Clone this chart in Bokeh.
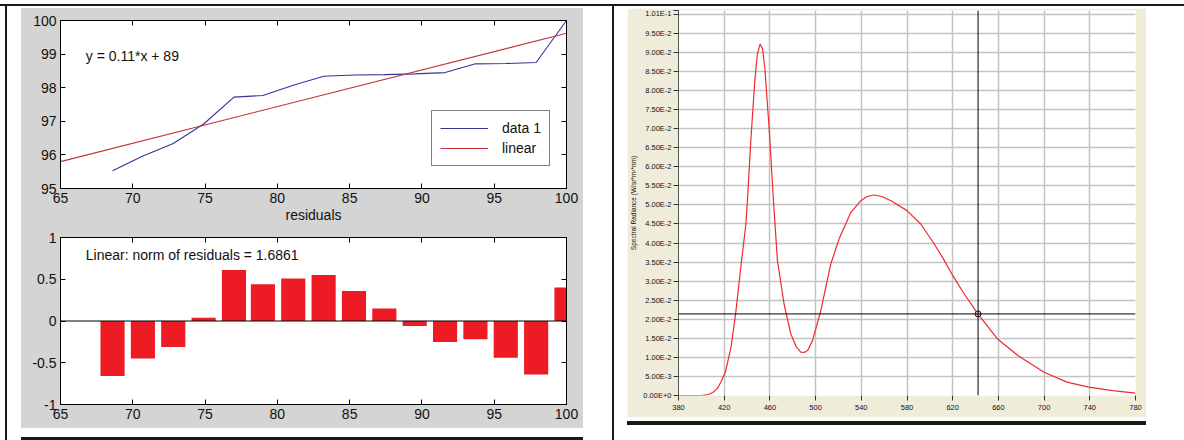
from bokeh.plotting import figure
from bokeh.models import (Span, Label, Legend, LegendItem, FixedTicker,
                          CustomJSTickFormatter, LinearAxis, Range1d, Spacer)
from bokeh.layouts import row, column
from bokeh.embed import file_html
from bokeh.resources import INLINE

# ---------------- data: linear fit (left panel) ----------------
data_x = [68.6, 70.7, 72.8, 74.9, 77.0, 79.0, 81.1, 83.2,
          85.3, 87.4, 89.5, 91.6, 93.7, 95.8, 97.9, 100.0]
data_y = [95.53, 95.97, 96.34, 96.92, 97.72, 97.77, 98.07, 98.34,
          98.38, 98.39, 98.41, 98.45, 98.71, 98.72, 98.75, 100.0]
fit_x = [65, 100]
fit_y = [95.80, 99.62]
residual_values = [-0.66, -0.45, -0.31, 0.04, 0.61, 0.44, 0.51, 0.55,
                   0.36, 0.15, -0.06, -0.25, -0.22, -0.44, -0.64, 0.40]
fit_equation = "y = 0.11*x + 89"
residual_note = "Linear: norm of residuals = 1.6861"
fit_x_ticks = [65, 70, 75, 80, 85, 90, 95, 100]
fit_x_labels = ["65", "70", "75", "80", "85", "90", "95", "100"]
fit_y_ticks = [95, 96, 97, 98, 99, 100]
fit_y_labels = ["95", "96", "97", "98", "99", "100"]
resid_y_ticks = [-1, -0.5, 0, 0.5, 1]
resid_y_labels = ["-1", "-0.5", "0", "0.5", "1"]

# ---------------- data: spectrum (right panel) ----------------
wavelength_nm = [380, 390, 400, 405, 410, 414, 417, 421, 426, 430, 434.5, 439, 440.5,
                 443.3, 446.8, 449, 451.4, 453.5, 455.5, 459.3, 463.1, 466.6, 472.4,
                 478.3, 483, 487, 490, 493, 497.3, 504.6, 513.3, 520.6, 530.8, 539.6,
                 545, 551, 558, 566, 580, 592, 602, 611, 620, 630, 642, 659, 677,
                 700, 720, 739, 760, 780]
radiance = [0.0, 0.0, 0.0, 0.00015, 0.0008, 0.0018, 0.0035, 0.0061, 0.0127, 0.0214,
            0.0336, 0.045, 0.052, 0.0669, 0.0826, 0.0895, 0.0922, 0.091, 0.0861,
            0.0703, 0.0511, 0.0354, 0.024, 0.0162, 0.0128, 0.0114, 0.0113, 0.0118,
            0.0144, 0.0223, 0.0345, 0.0411, 0.048, 0.0511, 0.0522, 0.0526, 0.0522,
            0.0511, 0.0485, 0.045, 0.0406, 0.0363, 0.0315, 0.0267, 0.0214, 0.0149,
            0.0105, 0.0061, 0.0035, 0.0022, 0.0013, 0.0006]
cursor_nm = 642.2
cursor_radiance = 0.0214
wl_ticks = [380, 420, 460, 500, 540, 580, 620, 660, 700, 740, 780]
wl_labels = ["380", "420", "460", "500", "540", "580", "620", "660", "700", "740", "780"]
rad_ticks = [0.0, 0.005, 0.01, 0.015, 0.02, 0.025, 0.03, 0.035, 0.04, 0.045, 0.05,
             0.055, 0.06, 0.065, 0.07, 0.075, 0.08, 0.085, 0.09, 0.095, 0.1, 0.101]
rad_labels = ["0.00E+0", "5.00E-3", "1.00E-2", "1.50E-2", "2.00E-2", "2.50E-2",
              "3.00E-2", "3.50E-2", "4.00E-2", "4.50E-2", "5.00E-2", "5.50E-2",
              "6.00E-2", "6.50E-2", "7.00E-2", "7.50E-2", "8.00E-2", "8.50E-2",
              "9.00E-2", "9.50E-2", "", "1.01E-1"]
rad_axis_title = "Spectral Radiance (W/sr*m\u00b2*nm)"

GRAY = "#d4d4d4"
CREAM = "#f0ecda"
INK = "#1a1a1a"
FONT = "Liberation Sans"


def label_formatter(vals, labs):
    return CustomJSTickFormatter(args=dict(tv=vals, tl=labs), code="""
        for (let i = 0; i < tv.length; i++) {
            if (Math.abs(tv[i] - tick) < 1e-9) { return tl[i]; }
        }
        return "";
    """)


def style_ml_axis(ax, ticks, labels, show_labels=True):
    ax.ticker = FixedTicker(ticks=ticks)
    ax.formatter = label_formatter(ticks, labels)
    ax.major_tick_in = 5
    ax.major_tick_out = 0
    ax.minor_tick_line_color = None
    ax.axis_line_color = "black"
    ax.major_tick_line_color = "black"
    ax.major_label_text_font = FONT
    if show_labels:
        ax.major_label_text_color = "#111111"
        ax.major_label_text_font_size = "14px"
        ax.major_label_standoff = 4
    else:
        ax.major_label_text_color = None
        ax.major_label_text_font_size = "1px"
        ax.major_label_standoff = 0


def ml_fig(y_range, frame_h, top, bottom, yticks, ylabels, xlabel=None):
    p = figure(frame_width=506, frame_height=frame_h,
               x_range=Range1d(65, 100), y_range=y_range,
               min_border_left=39, min_border_right=17,
               min_border_top=top, min_border_bottom=bottom,
               output_backend="svg", toolbar_location=None,
               background_fill_color="white", border_fill_color=None,
               outline_line_color="black", outline_line_width=1)
    p.grid.visible = False
    xa = p.xaxis[0]
    style_ml_axis(xa, fit_x_ticks, fit_x_labels)
    style_ml_axis(p.yaxis[0], yticks, ylabels)
    if xlabel:
        xa.axis_label = xlabel
        xa.axis_label_text_font = FONT
        xa.axis_label_text_font_size = "14px"
        xa.axis_label_text_font_style = "normal"
        xa.axis_label_text_color = "#111111"
        xa.axis_label_standoff = 1
    ax_top = LinearAxis()
    style_ml_axis(ax_top, fit_x_ticks, fit_x_labels, show_labels=False)
    p.add_layout(ax_top, "above")
    ax_right = LinearAxis()
    style_ml_axis(ax_right, yticks, ylabels, show_labels=False)
    p.add_layout(ax_right, "right")
    return p


# ---------------- top-left: data + linear fit ----------------
p1 = ml_fig(Range1d(95, 100), 168, 12, 38, fit_y_ticks, fit_y_labels, xlabel="residuals")
r_data = p1.line(data_x, data_y, line_color="#34349a", line_width=1.1)
r_fit = p1.line(fit_x, fit_y, line_color="#c0323a", line_width=1.1)
p1.add_layout(Label(x=66.75, y=98.93, text=fit_equation, text_font=FONT,
                    text_font_size="14px", text_baseline="middle", text_color="#111111"))
legend = Legend(items=[LegendItem(label="data 1", renderers=[r_data]),
                       LegendItem(label="linear", renderers=[r_fit])],
                location=(371, 22), margin=0, padding=8, spacing=2,
                glyph_width=48, glyph_height=18, label_height=18, label_standoff=14,
                label_text_font=FONT, label_text_font_size="14px",
                label_text_color="#111111",
                border_line_color="black", border_line_width=1,
                background_fill_color="white", background_fill_alpha=1.0)
p1.add_layout(legend)

# ---------------- bottom-left: residual bars ----------------
p2 = ml_fig(Range1d(-1, 1), 167, 11, 24, resid_y_ticks, resid_y_labels)
p2.vbar(x=data_x, top=residual_values, bottom=0, width=1.67,
        fill_color="#ed1c24", line_color=None)
p2.add_layout(Span(location=0, dimension="width", line_color="black", line_width=1))
p2.add_layout(Label(x=66.75, y=0.795, text=residual_note, text_font=FONT,
                    text_font_size="14px", text_baseline="middle", text_color="#111111"))

# ---------------- right: spectral radiance ----------------
p3 = figure(frame_width=457, frame_height=385,
            x_range=Range1d(380, 780), y_range=Range1d(0, 0.101),
            min_border_left=51, min_border_right=11, min_border_top=2, min_border_bottom=22,
            output_backend="svg", toolbar_location=None,
            background_fill_color="white", border_fill_color=CREAM,
            outline_line_color=None)
p3.xaxis.ticker = FixedTicker(ticks=wl_ticks)
p3.xaxis.formatter = label_formatter(wl_ticks, wl_labels)
p3.yaxis.ticker = FixedTicker(ticks=rad_ticks)
p3.yaxis.formatter = label_formatter(rad_ticks, rad_labels)
for ax in (p3.xaxis[0], p3.yaxis[0]):
    ax.major_tick_in = 0
    ax.major_tick_out = 5
    ax.minor_tick_line_color = None
    ax.major_tick_line_color = "#333333"
    ax.major_label_text_font = FONT
    ax.major_label_text_font_size = "7.5px"
    ax.major_label_text_color = "#111111"
    ax.major_label_standoff = 2
p3.xaxis.major_label_standoff = 4
p3.xaxis.axis_line_color = None
p3.yaxis.axis_line_color = "#555555"
p3.yaxis.axis_label = rad_axis_title
p3.yaxis.axis_label_text_font = FONT
p3.yaxis.axis_label_text_font_size = "6.5px"
p3.yaxis.axis_label_text_font_style = "normal"
p3.yaxis.axis_label_text_color = "#111111"
p3.yaxis.axis_label_standoff = 3
p3.xgrid.ticker = FixedTicker(ticks=wl_ticks)
p3.ygrid.ticker = FixedTicker(ticks=rad_ticks)
p3.grid.grid_line_color = "#c2c2c2"
p3.grid.grid_line_width = 1.5
p3.line(wavelength_nm, radiance, line_color="#ee2a2e", line_width=1.2)
p3.add_layout(Span(location=cursor_nm, dimension="height", line_color="black", line_width=1))
p3.add_layout(Span(location=cursor_radiance, dimension="width", line_color="black", line_width=1))
p3.scatter([cursor_nm], [cursor_radiance], size=6, fill_color="#f3b8b8",
           line_color="#222222", line_width=1)


# ---------------- page composition (table borders) ----------------
def blk(w, h, color):
    return Spacer(width=w, height=h, styles={"background-color": color})


BODY_H = 434
left_panel = column(blk(562, 2, "white"), p1, p2, blk(562, 9, "white"), blk(562, 3, INK),
                    spacing=0, styles={"background-color": GRAY})
right_panel = column(blk(519, 2, "white"), p3, blk(519, 4, "white"), blk(519, 4, INK),
                     blk(519, 15, "white"), spacing=0)
body = row(blk(5, BODY_H, "white"), blk(2, BODY_H, INK), blk(14, BODY_H, "white"),
           left_panel,
           blk(29, BODY_H, "white"), blk(2, BODY_H, INK), blk(13, BODY_H, "white"),
           right_panel, blk(38, BODY_H, "white"), spacing=0)
root = column(blk(1184, 4, "white"), blk(1184, 2, INK), body, spacing=0)

open("out.html", "w").write(file_html(root, INLINE))
